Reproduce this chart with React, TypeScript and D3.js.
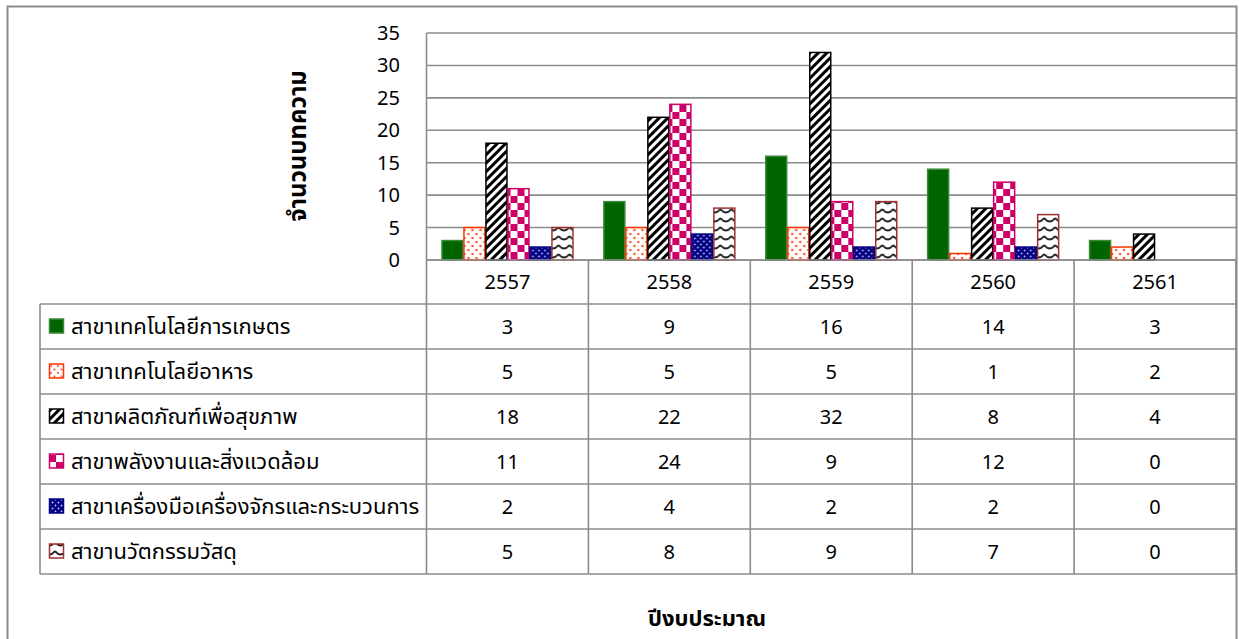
import React from "react";
import * as d3 from "d3";

const years = ["2557", "2558", "2559", "2560", "2561"];
const seriesNames = [
  "สาขาเทคโนโลยีการเกษตร",
  "สาขาเทคโนโลยีอาหาร",
  "สาขาผลิตภัณฑ์เพื่อสุขภาพ",
  "สาขาพลังงานและสิ่งแวดล้อม",
  "สาขาเครื่องมือเครื่องจักรและกระบวนการ",
  "สาขานวัตกรรมวัสดุ",
];
const agriTech = [3, 9, 16, 14, 3];
const foodTech = [5, 5, 5, 1, 2];
const healthProducts = [18, 22, 32, 8, 4];
const energyEnv = [11, 24, 9, 12, 0];
const machinery = [2, 4, 2, 2, 0];
const materials = [5, 8, 9, 7, 0];
const yTicks = [0, 5, 10, 15, 20, 25, 30, 35];
const yTitle = "จำนวนบทความ";
const xTitle = "ปีงบประมาณ";

const seriesValues = [agriTech, foodTech, healthProducts, energyEnv, machinery, materials];
const fills = ["#006400", "url(#pDots)", "url(#pDiag)", "url(#pCheck)", "url(#pNavy)", "url(#pWave)"];
const strokes = ["#3a8a3a", "#ff3300", "#000000", "#cc0066", "#000080", "#a03030"];
const keyFills = ["#006400", "url(#pDotsK)", "url(#pDiag)", "url(#pCheck)", "url(#pNavy)", "url(#pWave)"];

const FONT = "Tahoma, 'Noto Sans Thai', 'Noto Sans', 'DejaVu Sans', sans-serif";
const GRID = "#8c8c8c";
const NUM_SIZE = 20;

export default function App() {
  const plotLeft = 426.5;
  const plotRight = 1236;
  const plotTop = 33;
  const plotBottom = 260;
  const tableLeft = 40;
  const rowH = 45;
  const headerBottom = 304;

  const x0 = d3.scaleBand<string>().domain(years).range([plotLeft, plotRight]).paddingInner(0).paddingOuter(0);
  const x1 = d3
    .scaleBand<string>()
    .domain(seriesNames)
    .range([0, x0.bandwidth()])
    .paddingInner(0)
    .paddingOuter(0.68);
  const y = d3.scaleLinear().domain([0, 35]).range([plotBottom, plotTop]);

  const rowsY = seriesNames.map((_, i) => headerBottom + i * rowH);
  const tableBottom = headerBottom + seriesNames.length * rowH;

  return (
    <svg
      width={1239}
      height={639}
      style={{ position: "absolute", left: 0, top: 0, background: "#fff" }}
      fontFamily={FONT}
    >
      <defs>
        <pattern id="pDots" width="8" height="8" patternUnits="userSpaceOnUse">
          <rect width="8" height="8" fill="#fff" />
          <circle cx="2" cy="2" r="1.3" fill="#ff5a36" />
          <circle cx="6" cy="6" r="1.3" fill="#ff5a36" />
        </pattern>
        <pattern id="pDotsK" width="7" height="7" patternUnits="userSpaceOnUse">
          <rect width="7" height="7" fill="#fff" />
          <circle cx="2" cy="2" r="1.1" fill="#ff5a36" />
          <circle cx="5.5" cy="5.5" r="1.1" fill="#ff5a36" />
        </pattern>
        <pattern id="pDiag" width="6" height="6" patternUnits="userSpaceOnUse" patternTransform="rotate(45)">
          <rect width="6" height="6" fill="#fff" />
          <rect width="3" height="6" fill="#000" />
        </pattern>
        <pattern id="pCheck" width="14" height="14" patternUnits="userSpaceOnUse">
          <rect width="14" height="14" fill="#fff" />
          <rect x="0" y="0" width="7" height="7" fill="#cc0066" />
          <rect x="7" y="7" width="7" height="7" fill="#cc0066" />
        </pattern>
        <pattern id="pNavy" width="6" height="6" patternUnits="userSpaceOnUse">
          <rect width="6" height="6" fill="#000080" />
          <circle cx="1.5" cy="1.5" r="0.9" fill="#c8c8ff" />
          <circle cx="4.5" cy="4.5" r="0.9" fill="#c8c8ff" />
        </pattern>
        <pattern id="pWave" width="11" height="9" patternUnits="userSpaceOnUse">
          <rect width="11" height="9" fill="#fff" />
          <path d="M0,2 Q5.5,9 11,2" fill="none" stroke="#222" strokeWidth="2" />
        </pattern>
      </defs>

      {/* outer border */}
      <rect x={7.5} y={6.5} width={1229} height={640} fill="none" stroke={GRID} strokeWidth={2} />

      {/* gridlines */}
      {yTicks.map((t) => (
        <line key={"g" + t} x1={plotLeft} x2={plotRight} y1={y(t)} y2={y(t)} stroke={GRID} strokeWidth={1.6} />
      ))}
      <line x1={plotLeft} x2={plotLeft} y1={plotTop} y2={plotBottom} stroke={GRID} strokeWidth={1.6} />

      {/* y tick labels */}
      {yTicks.map((t) => (
        <text key={"t" + t} x={400} y={y(t)} dy="0.35em" textAnchor="end" fontSize={NUM_SIZE} fill="#000">
          {t}
        </text>
      ))}

      {/* bars */}
      {years.map((yr, ci) => (
        <g key={yr} transform={`translate(${x0(yr)},0)`}>
          {seriesNames.map((s, si) => {
            const v = seriesValues[si][ci];
            if (v <= 0) return null;
            return (
              <rect
                key={s}
                x={(x1(s) as number) + 0.5}
                y={y(v)}
                width={x1.bandwidth() - 1}
                height={y(0) - y(v)}
                fill={fills[si]}
                stroke={strokes[si]}
                strokeWidth={1.5}
              />
            );
          })}
        </g>
      ))}

      {/* table */}
      {years.map((yr) => (
        <line
          key={"v" + yr}
          x1={x0(yr)}
          x2={x0(yr)}
          y1={plotBottom}
          y2={tableBottom}
          stroke={GRID}
          strokeWidth={1.6}
        />
      ))}
      <line x1={plotRight} x2={plotRight} y1={plotBottom} y2={tableBottom} stroke={GRID} strokeWidth={1.6} />
      <line x1={plotLeft} x2={plotRight} y1={plotBottom} y2={plotBottom} stroke={GRID} strokeWidth={1.6} />
      {rowsY.map((ry, i) => (
        <line key={"r" + i} x1={tableLeft} x2={plotRight} y1={ry} y2={ry} stroke={GRID} strokeWidth={1.6} />
      ))}
      <line x1={tableLeft} x2={plotRight} y1={tableBottom} y2={tableBottom} stroke={GRID} strokeWidth={1.6} />
      <line x1={tableLeft} x2={tableLeft} y1={headerBottom} y2={tableBottom} stroke={GRID} strokeWidth={1.6} />

      {/* header labels */}
      {years.map((yr) => (
        <text
          key={"h" + yr}
          x={(x0(yr) as number) + x0.bandwidth() / 2}
          y={(plotBottom + headerBottom) / 2}
          dy="0.35em"
          textAnchor="middle"
          fontSize={NUM_SIZE}
          fill="#000"
        >
          {yr}
        </text>
      ))}

      {/* rows */}
      {seriesNames.map((s, si) => {
        const cy = rowsY[si] + rowH / 2;
        return (
          <g key={"row" + s}>
            <rect
              x={49.5}
              y={cy - 7.5}
              width={14}
              height={14}
              fill={keyFills[si]}
              stroke={strokes[si]}
              strokeWidth={1.5}
            />
            <text x={71} y={cy} dy="0.35em" fontSize={22} fill="#000">
              {s}
            </text>
            {years.map((yr, ci) => (
              <text
                key={yr}
                x={(x0(yr) as number) + x0.bandwidth() / 2}
                y={cy}
                dy="0.35em"
                textAnchor="middle"
                fontSize={NUM_SIZE}
                fill="#000"
              >
                {seriesValues[si][ci]}
              </text>
            ))}
          </g>
        );
      })}

      {/* axis titles */}
      <text
        transform={`translate(298,146) rotate(-90)`}
        textAnchor="middle"
        dy="0.35em"
        fontSize={24}
        fontWeight="bold"
        fill="#000"
      >
        {yTitle}
      </text>
      <text x={707} y={618} dy="0.35em" textAnchor="middle" fontSize={22} fontWeight="bold" fill="#000">
        {xTitle}
      </text>
    </svg>
  );
}
